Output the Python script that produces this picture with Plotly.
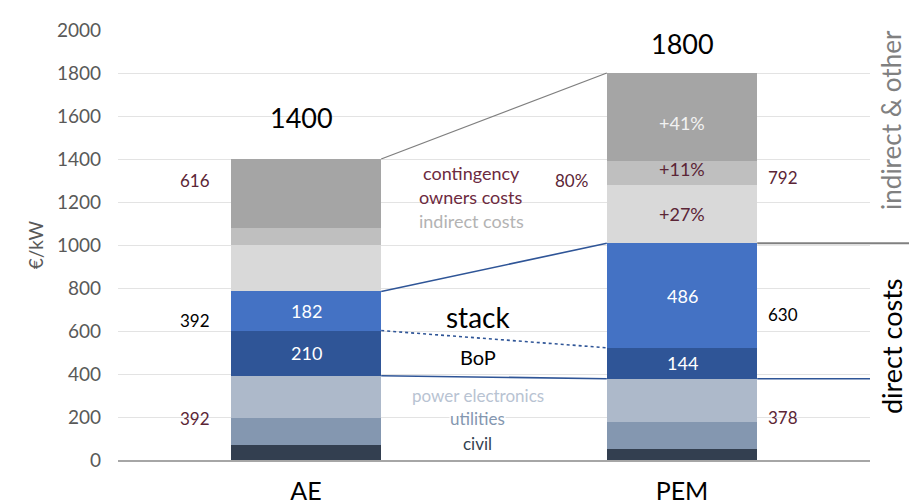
import plotly.graph_objects as go
import numpy as np

categories = ["AE", "PEM"]
segments = ["civil", "utilities", "power electronics", "BoP", "stack",
            "indirect costs", "owners costs", "contingency"]
civil = [70, 51]
utilities = [124, 127]
power_electronics = [198, 200]
bop = [210, 144]
stack = [182, 486]
indirect_costs = [216, 272]
owners_costs = [80, 110]
contingency = [320, 410]
totals = [1400, 1800]
pem_change = ["+27%", "+11%", "+41%"]
y_ticks = [0, 200, 400, 600, 800, 1000, 1200, 1400, 1600, 1800, 2000]

series = [civil, utilities, power_electronics, bop, stack, indirect_costs, owners_costs, contingency]
colors = ["#333f50", "#8497b0", "#adb9ca", "#2f5597", "#4472c4",
          "#d9d9d9", "#bfbfbf", "#a5a5a5"]

FONT = "Lato"
MAROON = "#5b2536"
BAR_W = 0.4

fig = go.Figure()
for name, vals, col in zip(segments, series, colors):
    fig.add_trace(go.Bar(x=[0, 1], y=vals, name=name, marker_color=col,
                         marker_line_width=0, width=BAR_W, showlegend=False,
                         hoverinfo="y+name"))

cum = np.cumsum(np.array(series), axis=0)  # tops of each segment
base = np.vstack([np.zeros(2), cum[:-1]])
mid = (cum + base) / 2

direct_low = cum[2]      # civil+utilities+PE
direct_top = cum[4]      # + BoP + stack
stack_bottom = cum[3]
indirect_total = [totals[i] - direct_top[i] for i in range(2)]
upper_direct = [direct_top[i] - direct_low[i] for i in range(2)]

ann = []
def A(x, y, text, size=16, color="#000", xref="x", yref="y", **kw):
    d = dict(x=x, y=y, text=text, xref=xref, yref=yref, showarrow=False,
             xanchor="center", yanchor="middle",
             font=dict(family=FONT, size=size, color=color))
    d.update(kw)
    ann.append(d)

# values inside bars
A(0, mid[4][0], str(stack[0]), 18, "white")
A(0, mid[3][0], str(bop[0]), 18, "white")
A(1, mid[4][1], str(stack[1]), 18, "white")
A(1, mid[3][1], str(bop[1]), 18, "white")
A(1, mid[5][1], pem_change[0], 18, MAROON)
A(1, mid[6][1], pem_change[1], 18, MAROON, yshift=4)
A(1, mid[7][1], pem_change[2], 18, "#f2f2f2", yshift=-6)

# totals
A(0, totals[0], str(totals[0]), 27, "#000", yshift=42, xshift=-5)
A(1, totals[1], str(totals[1]), 27, "#000", yshift=30)

# left labels for AE
A(-0.295, 1298, str(indirect_total[0]), 17, MAROON)
A(-0.295, 651, str(upper_direct[0]), 17, "#000")
A(-0.295, 191, str(int(direct_low[0])), 17, MAROON)
# right labels for PEM
A(1.269, 1312, str(indirect_total[1]), 17, MAROON)
A(1.269, 679, str(upper_direct[1]), 17, "#000")
A(1.269, 200, str(int(direct_low[1])), 17, MAROON)

# middle legend-like labels
A(0.44, 1335, "contingency", 18, "#6d2a40")
A(0.44, 1223, "owners costs", 18, "#6d2a40")
A(0.44, 1112, "indirect costs", 18, "#b3b3b3")
A(0.705, 1298, "80%", 17, MAROON)
A(0.457, 665, "stack", 28, "#000")
A(0.457, 479, "BoP", 20, "#000")
A(0.457, 302, "power electronics", 17, "#b8c3d2")
A(0.457, 191, "utilities", 17, "#8497b0", bgcolor="white", borderpad=0)
A(0.457, 79, "civil", 17, "#333f50")

# right side rotated labels
A(1.028, 1582, "indirect & other", 26, "#808080", xref="paper", textangle=-90)
A(1.028, 530, "direct costs", 27, "#000", xref="paper", textangle=-90)
# y title
A(-0.11, 1000, "€/kW", 19, "#595959", xref="paper", textangle=-90)

fig.update_layout(annotations=ann)

shapes = []
xr = BAR_W / 2
shapes.append(dict(type="line", xref="x", yref="y", x0=0 + xr, y0=totals[0], x1=1 - xr, y1=totals[1],
                   line=dict(color="#7f7f7f", width=1.3)))
shapes.append(dict(type="line", xref="x", yref="y", x0=0 + xr, y0=direct_top[0], x1=1 - xr, y1=direct_top[1],
                   line=dict(color="#2f5597", width=1.6)))
shapes.append(dict(type="line", xref="x", yref="y", x0=0 + xr, y0=stack_bottom[0], x1=1 - xr, y1=stack_bottom[1],
                   line=dict(color="#2f5597", width=1.6, dash="dot")))
shapes.append(dict(type="line", xref="x", yref="y", x0=0 + xr, y0=direct_low[0], x1=1 - xr, y1=direct_low[1],
                   line=dict(color="#2f5597", width=1.6)))
shapes.append(dict(type="line", xref="x", yref="y", x0=1 + xr, y0=direct_low[1], x1=1.5, y1=direct_low[1],
                   line=dict(color="#2f5597", width=1.6)))
shapes.append(dict(type="line", xref="paper", yref="y", x0=(1 + xr + 0.5) / 2, y0=direct_top[1], x1=1.06, y1=direct_top[1],
                   line=dict(color="#808080", width=2)))
fig.update_layout(shapes=shapes)

fig.update_layout(
    width=909, height=504,
    margin=dict(l=118, r=39, t=30, b=44),
    barmode="stack",
    plot_bgcolor="white", paper_bgcolor="white",
    font=dict(family=FONT),
    xaxis=dict(range=[-0.5, 1.5], tickmode="array", tickvals=[0, 1], ticktext=categories,
               tickfont=dict(family=FONT, size=25, color="#000"), showgrid=False,
               showline=True, linecolor="#a6a6a6", linewidth=1.5, zeroline=False,
               ticklabelstandoff=8, automargin=False),
    yaxis=dict(range=[0, 2000], tickmode="array", tickvals=y_ticks,
               tickfont=dict(family=FONT, size=19, color="#595959"),
               gridcolor="#e3e3e3", gridwidth=1, zeroline=False,
               ticklabelstandoff=16, automargin=False),
)

fig.write_html("out.html", config={"displayModeBar": False},
               post_script="document.body.style.margin='0';document.body.style.overflow='hidden';")
